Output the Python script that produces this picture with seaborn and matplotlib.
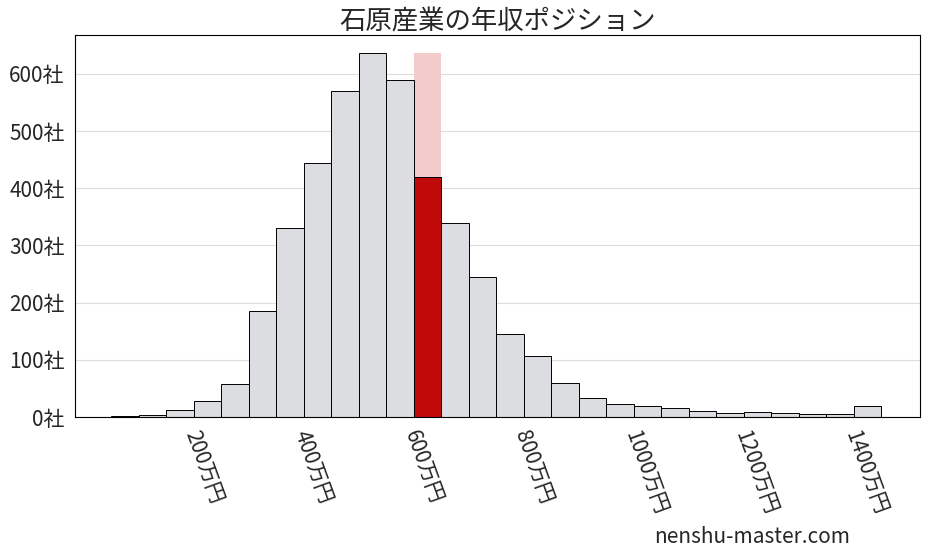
import numpy as np
import pandas as pd
import matplotlib
matplotlib.use("Agg")
import matplotlib.pyplot as plt
import seaborn as sns

sns.set_style("white")
plt.rcParams['font.family'] = ['Noto Sans CJK JP', 'DejaVu Sans']

bin_centers = [100,150,200,250,300,350,400,450,500,550,600,650,700,750,800,850,900,950,
               1000,1050,1100,1150,1200,1250,1300,1350,1400,1450]
counts = [2,4,12,28,58,185,330,445,570,637,590,420,340,245,145,107,60,33,
          23,19,16,11,7,9,7,5,5,20]
highlight_center = 650
xticks = [200,400,600,800,1000,1200,1400]
xtick_labels = ["200万円","400万円","600万円","800万円","1000万円","1200万円","1400万円"]
yticks = [0,100,200,300,400,500,600]
ytick_labels = ["0社","100社","200社","300社","400社","500社","600社"]

edges = [float(e) for e in np.arange(75, 1476, 50)]
df = pd.DataFrame({"x": bin_centers, "n": counts})
bg = pd.DataFrame({"x": [highlight_center], "n": [max(counts)]})
hi = df[df.x == highlight_center]

fig = plt.figure(figsize=(9.27, 5.57), dpi=100)
ax = fig.add_axes([75/927, 1-417/557, 845/927, 382/557])
ax.yaxis.grid(True, color="#dddddd", linewidth=0.8)
ax.set_axisbelow(True)

sns.histplot(data=bg, x="x", weights="n", bins=[625.0, 675.0], ax=ax,
             color="#f2cccc", alpha=1, edgecolor="none", linewidth=0)
sns.histplot(data=df, x="x", weights="n", bins=edges, ax=ax,
             color="#dcdde0", alpha=1, edgecolor="black", linewidth=0.7)
sns.histplot(data=hi, x="x", weights="n", bins=[625.0, 675.0], ax=ax,
             color="#c00a0a", alpha=1, edgecolor="black", linewidth=0.7)

ax.set_xlim(9, 1545)
ax.set_ylim(0, 668)
ax.set_xticks(xticks)
ax.set_xticklabels(xtick_labels, rotation=-70, ha="left", fontsize=15)
ax.set_yticks(yticks)
ax.set_yticklabels(ytick_labels, fontsize=15)
ax.set_xlabel("")
ax.set_ylabel("")
ax.tick_params(axis="x", length=4)
ax.tick_params(axis="y", length=4)
for s in ax.spines.values():
    s.set_color("black"); s.set_linewidth(0.8)
ax.set_title("石原産業の年収ポジション", fontsize=19, pad=4)
fig.text(850/927, 1-537/557, "nenshu-master.com", ha="right", va="center", fontsize=15,
         family=['Noto Sans CJK JP', 'DejaVu Sans'])
fig.savefig("out.png", dpi=100)
